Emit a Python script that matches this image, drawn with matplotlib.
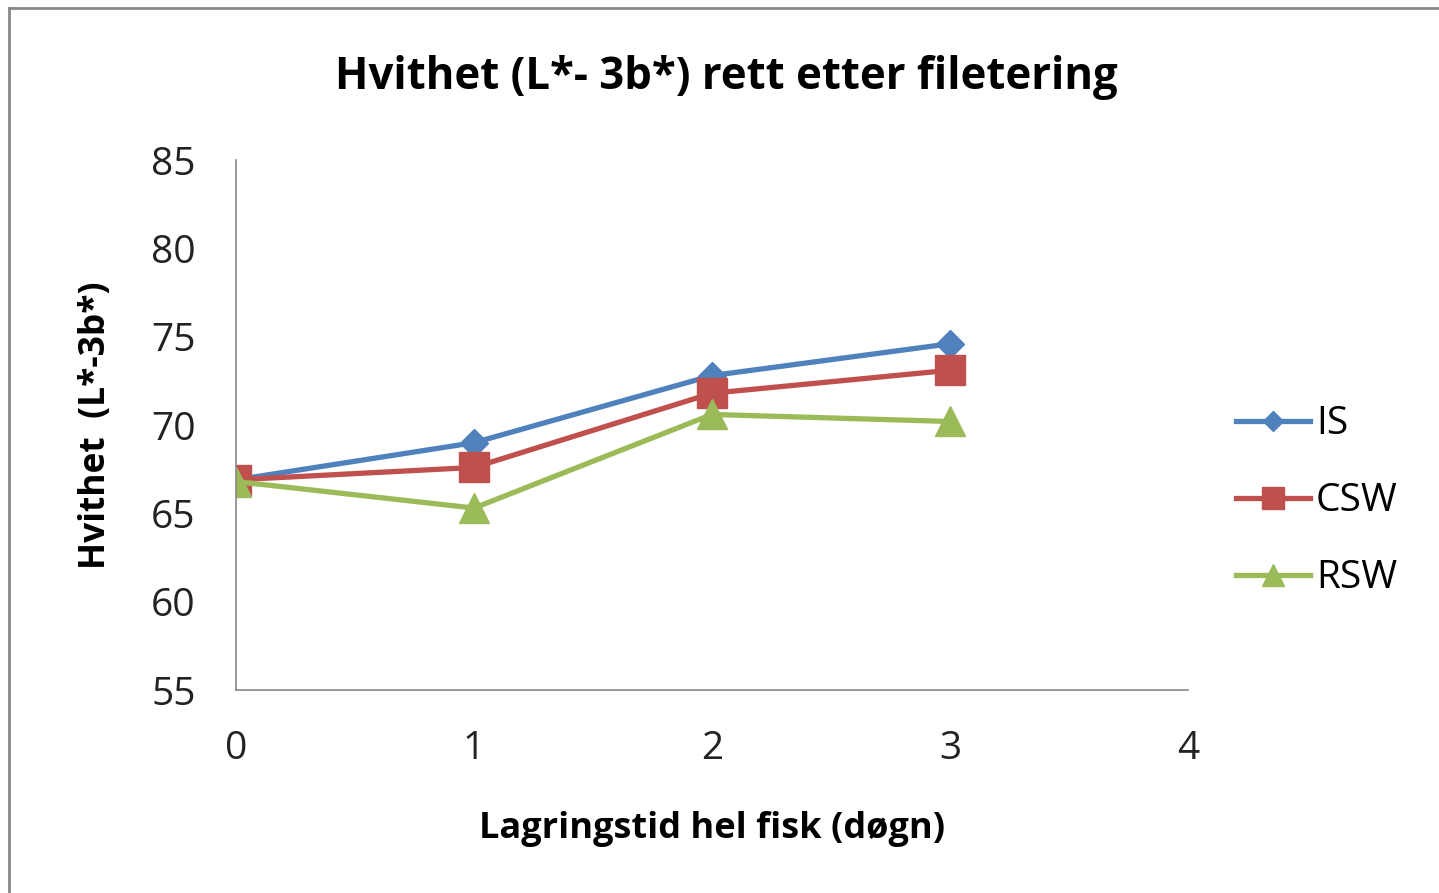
import numpy as np
import matplotlib.pyplot as plt
from matplotlib.lines import Line2D

plt.rcParams['font.family'] = ['Open Sans', 'DejaVu Sans']

days = [0, 1, 2, 3]
IS = [66.9, 69.0, 72.8, 74.6]
CSW = [66.9, 67.6, 71.8, 73.1]
RSW = [66.8, 65.3, 70.6, 70.2]

fig = plt.figure(figsize=(14.39, 8.93), dpi=100)
ax = fig.add_axes([0.164, 0.2273, 0.6616, 0.5935])

ax.plot(days, IS, color='#4F81BD', lw=3.8, marker='D', ms=14, label='IS')
ax.plot(days, CSW, color='#C0504D', lw=3.8, marker='s', ms=21, label='CSW')
ax.plot(days, RSW, color='#9BBB59', lw=3.8, marker='^', ms=21, label='RSW')

ax.set_xlim(0, 4)
ax.set_ylim(55, 85)
ax.set_xticks([0, 1, 2, 3, 4])
ax.set_yticks([55, 60, 65, 70, 75, 80, 85])
ax.tick_params(length=0, labelsize=28, colors='#222222')
ax.tick_params(axis='y', pad=29)
ax.tick_params(axis='x', pad=29)
for s in ['top', 'right']:
    ax.spines[s].set_visible(False)
for s in ['left', 'bottom']:
    ax.spines[s].set_color('#888888')
    ax.spines[s].set_linewidth(1.2)

ax.set_title('Hvithet (L*- 3b*) rett etter filetering', fontsize=31.5, fontweight='bold',
             pad=51, x=0.515)
ax.set_xlabel('Lagringstid hel fisk (døgn)', fontsize=26, fontweight='bold', labelpad=31)
ax.set_ylabel('Hvithet  (L*-3b*)', fontsize=25.5, fontweight='bold', labelpad=27)

ax.legend(loc='center left', bbox_to_anchor=(1.014, 0.356), frameon=False, fontsize=28,
          handlelength=1.9, labelspacing=1.0, handletextpad=0.15, markerscale=0.75)

fig.lines.append(Line2D([0.0063, 0.0063], [0.0, 0.991], transform=fig.transFigure,
                        color='#888888', lw=2))
fig.lines.append(Line2D([0.0063, 1.0], [0.991, 0.991], transform=fig.transFigure,
                        color='#888888', lw=2))

fig.savefig('out.png', dpi=100)
